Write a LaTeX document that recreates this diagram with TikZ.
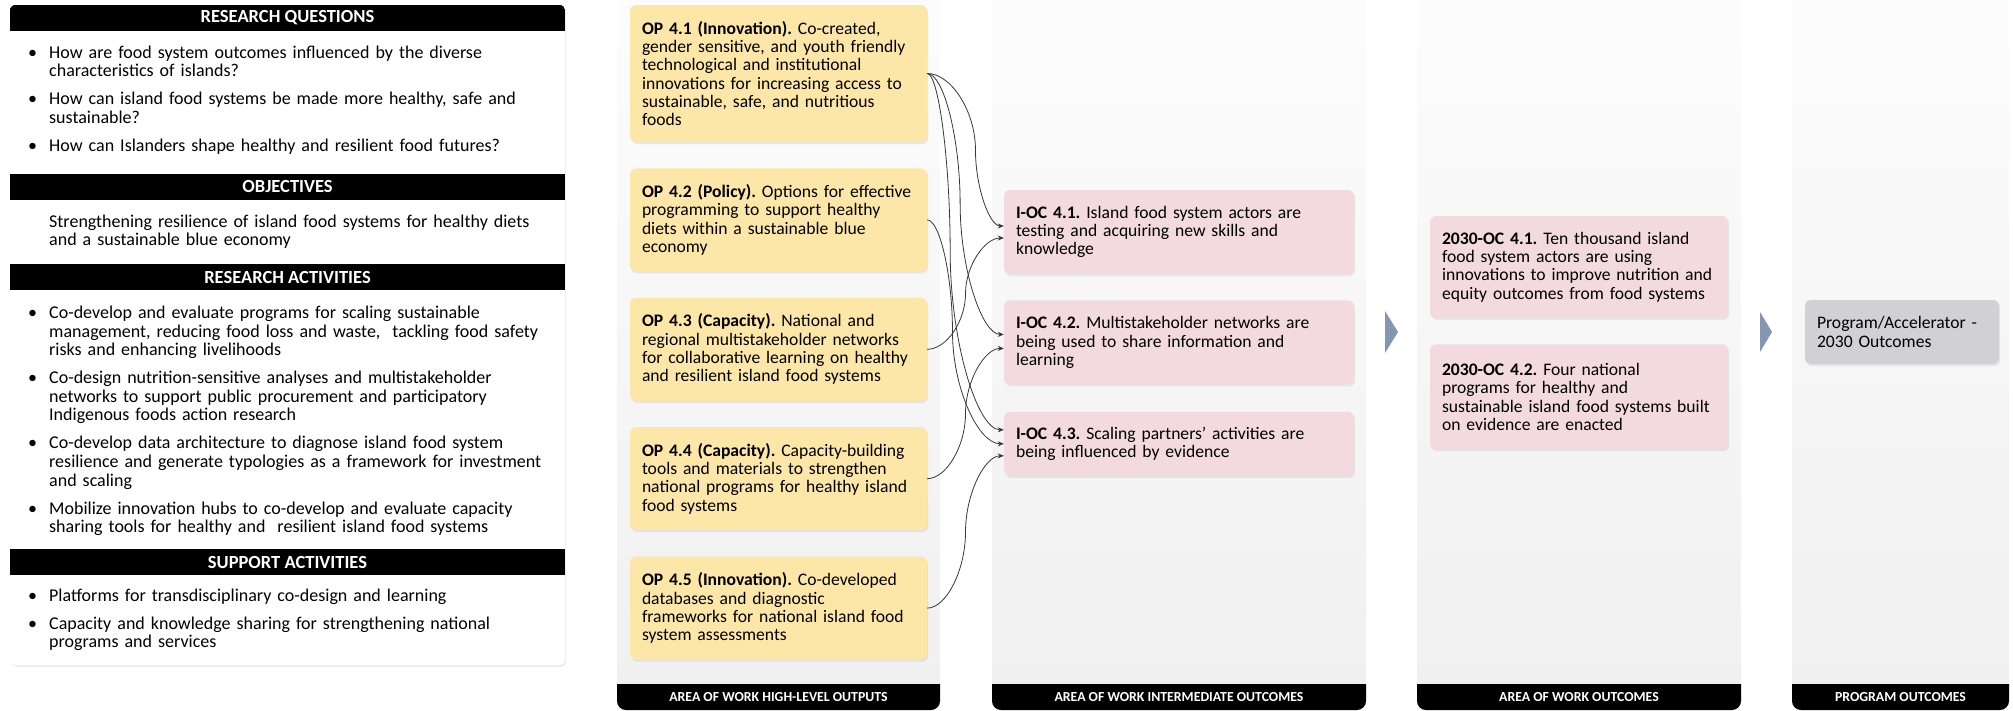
\documentclass[tikz,border=0pt]{standalone}
\usepackage{fontspec}
\setmainfont{Carlito}
\usetikzlibrary{arrows.meta,positioning,calc,shadows}
\frenchspacing

\definecolor{opyellow}{RGB}{253,231,168}
\definecolor{ocpink}{RGB}{242,218,223}
\definecolor{progray}{RGB}{209,209,211}
\definecolor{chevblue}{RGB}{133,150,176}
\definecolor{linkgray}{RGB}{55,55,55}

% bullet with hanging indent
\newcommand{\bitem}[1]{\leavevmode\hangindent=21pt\hangafter=1%
  \hbox to 21pt{\textbullet\hfil}#1\par\vspace{9.4pt}}

\begin{document}
\begin{tikzpicture}[x=1pt, y=-1pt,
        node distance=26pt,
        >={Stealth[length=6pt,width=5pt]},
        shadowed/.style={drop shadow={opacity=.14, shadow xshift=1.2pt, shadow yshift=-2pt}},
        hdr/.style={fill=black, text=white, minimum width=555pt, minimum height=26pt, inner sep=0pt, font=\bfseries\fontsize{18.5}{20}\selectfont},
        body/.style={text width=530pt, align=left, inner sep=0pt, anchor=base west, font=\fontsize{18}{18.6}\selectfont},
        card/.style={rounded corners=6pt, align=left, inner xsep=12pt, shadowed, font=\fontsize{17.6}{18.3}\selectfont},
        opbox/.style={card, fill=opyellow, text width=273pt, minimum height=103pt},
        iocbox/.style={card, fill=ocpink, text width=326pt, minimum height=84pt},
        ocbox/.style={card, fill=ocpink, text width=274pt, minimum height=102pt},
        progbox/.style={card, fill=progray, text width=170pt, minimum height=64pt},
        footlbl/.style={text=white, font=\bfseries\fontsize{13.8}{16}\selectfont},
        link/.style={->, draw=linkgray, line width=.8pt},
        pcurve/.style={to path={let \p1=(\tikztostart), \p2=(\tikztotarget),
            \n1={\x1+#1*(\x2-\x1)} in
            .. controls ({(\x1+\n1)/2},\y1) and (\n1,{.75*\y1+.25*\y2}) .. (\n1,{.5*\y1+.5*\y2})
            .. controls (\n1,{.25*\y1+.75*\y2}) and ({(\x2+\n1)/2},\y2) .. (\tikztotarget)}}
    ]
    \useasboundingbox (0,0) rectangle (2013,710);

    % Columns
    \foreach \xa/\xb/\nm/\lbl in {617/940/foot1/{AREA OF WORK HIGH-LEVEL OUTPUTS},
            992/1366/foot2/{AREA OF WORK INTERMEDIATE OUTCOMES},
            1417/1741/foot3/{AREA OF WORK OUTCOMES},
            1792/2009/foot4/{PROGRAM OUTCOMES}}{
        \shade[top color=black!1, bottom color=black!6, rounded corners=9pt]
            (\xa,0) -- (\xa,710) -- (\xb,710) -- (\xb,0);
        \fill[black, rounded corners=9pt] (\xa,684) -- (\xa,710) -- (\xb,710) -- (\xb,684);
        \node[footlbl] (\nm) at ({(\xa+\xb)/2},697) {\lbl};
    }
    \fill[chevblue] (1385,311) -- (1398,332) -- (1385,353) -- cycle;
    \fill[chevblue] (1760,312) -- (1772,332) -- (1760,352) -- cycle;

    % Left panel
    \node[fill=white, rounded corners=6pt, minimum width=555pt, minimum height=660pt, inner sep=0pt, shadowed] (panel) at (287.5,335) {};
    \begin{scope}
        \clip[rounded corners=6pt] (panel.north west) rectangle (panel.south east);
        \node[hdr] (hdrq) at (287.5,18) {RESEARCH QUESTIONS};
        \node[hdr] (hdrobj) at (287.5,186.5) {OBJECTIVES};
        \node[hdr] (hdract) at (287.5,277) {RESEARCH ACTIVITIES};
        \node[hdr] (hdrsup) at (287.5,562) {SUPPORT ACTIVITIES};
    \end{scope}

    \node[body] (questions) at (28,58) {%
        \bitem{How are food system outcomes influenced by the diverse\newline characteristics of islands?}%
        \bitem{How can island food systems be made more healthy, safe and\newline sustainable?}%
        \bitem{How can Islanders shape healthy and resilient food futures?}};
    \node[body] (objective) at (49,227) {Strengthening resilience of island food systems for healthy diets\\ and a sustainable blue economy};
    \node[body] (activities) at (28,318.5) {%
        \bitem{Co-develop and evaluate programs for scaling sustainable\newline management, reducing food loss and waste,\ \ tackling food safety\newline risks and enhancing livelihoods}%
        \bitem{Co-design nutrition-sensitive analyses and multistakeholder\newline networks to support public procurement and participatory\newline Indigenous foods action research}%
        \bitem{Co-develop data architecture to diagnose island food system\newline resilience and generate typologies as a framework for investment\newline and scaling}%
        \bitem{Mobilize innovation hubs to co-develop and evaluate capacity\newline sharing tools for healthy and\ \ resilient island food systems}};
    \node[body] (support) at (28,601) {%
        \bitem{Platforms for transdisciplinary co-design and learning}%
        \bitem{Capacity and knowledge sharing for strengthening national\newline programs and services}};

    % Nodes
    \node[opbox, minimum height=137pt] (op41) at (778.5,73.5) {\textbf{OP 4.1 (Innovation).} Co-created,\\ gender sensitive, and youth friendly\\ technological and institutional\\ innovations for increasing access to\\ sustainable, safe, and nutritious\\ foods};
    \node[opbox, below=of op41] (op42) {\textbf{OP 4.2 (Policy).} Options for effective\\ programming to support healthy\\ diets within a sustainable blue\\ economy};
    \node[opbox, below=of op42] (op43) {\textbf{OP 4.3 (Capacity).} National and\\ regional multistakeholder networks\\ for collaborative learning on healthy\\ and resilient island food systems};
    \node[opbox, below=of op43] (op44) {\textbf{OP 4.4 (Capacity).} Capacity-building\\ tools and materials to strengthen\\ national programs for healthy island\\ food systems};
    \node[opbox, below=of op44] (op45) {\textbf{OP 4.5 (Innovation).} Co-developed\\ databases and diagnostic\\ frameworks for national island food\\ system assessments};

    \node[iocbox] (ioc1) at (1179,232) {\textbf{I-OC 4.1.} Island food system actors are\\ testing and acquiring new skills and\\ knowledge};
    \node[iocbox, below=of ioc1] (ioc2) {\textbf{I-OC 4.2.} Multistakeholder networks are\\ being used to share information and\\ learning};
    \node[iocbox, minimum height=64pt, below=27pt of ioc2] (ioc3) {\textbf{I-OC 4.3.} Scaling partners' activities are\\ being influenced by evidence};

    \node[ocbox] (oc1) at (1579,267) {\textbf{2030-OC 4.1.} Ten thousand island\\ food system actors are using\\ innovations to improve nutrition and\\ equity outcomes from food systems};
    \node[ocbox, minimum height=105pt, below=of oc1] (oc2) {\textbf{2030-OC 4.2.} Four national\\ programs for healthy and\\ sustainable island food systems built\\ on evidence are enacted};

    \node[progbox] (prog) at (1902,332) {Program/Accelerator -\\ 2030 Outcomes};

    % Edges
    \draw[link, pcurve=.63] (op41.east) to ($(ioc1.west)+(0,-6)$);
    \draw[link, pcurve=.43] (op41.east) to ($(ioc2.west)+(0,-8)$);
    \draw[link, pcurve=.30] (op41.east) to ($(ioc3.west)+(0,-14)$);
    \draw[link, pcurve=.33] (op42.east) to (ioc3.west);
    \draw[link, pcurve=.5] (op43.east) to ($(ioc1.west)+(0,6)$);
    \draw[link, pcurve=.5] (op44.east) to ($(ioc2.west)+(0,6)$);
    \draw[link, pcurve=.5] (op45.east) to ($(ioc3.west)+(0,12)$);

\end{tikzpicture}
\end{document}
